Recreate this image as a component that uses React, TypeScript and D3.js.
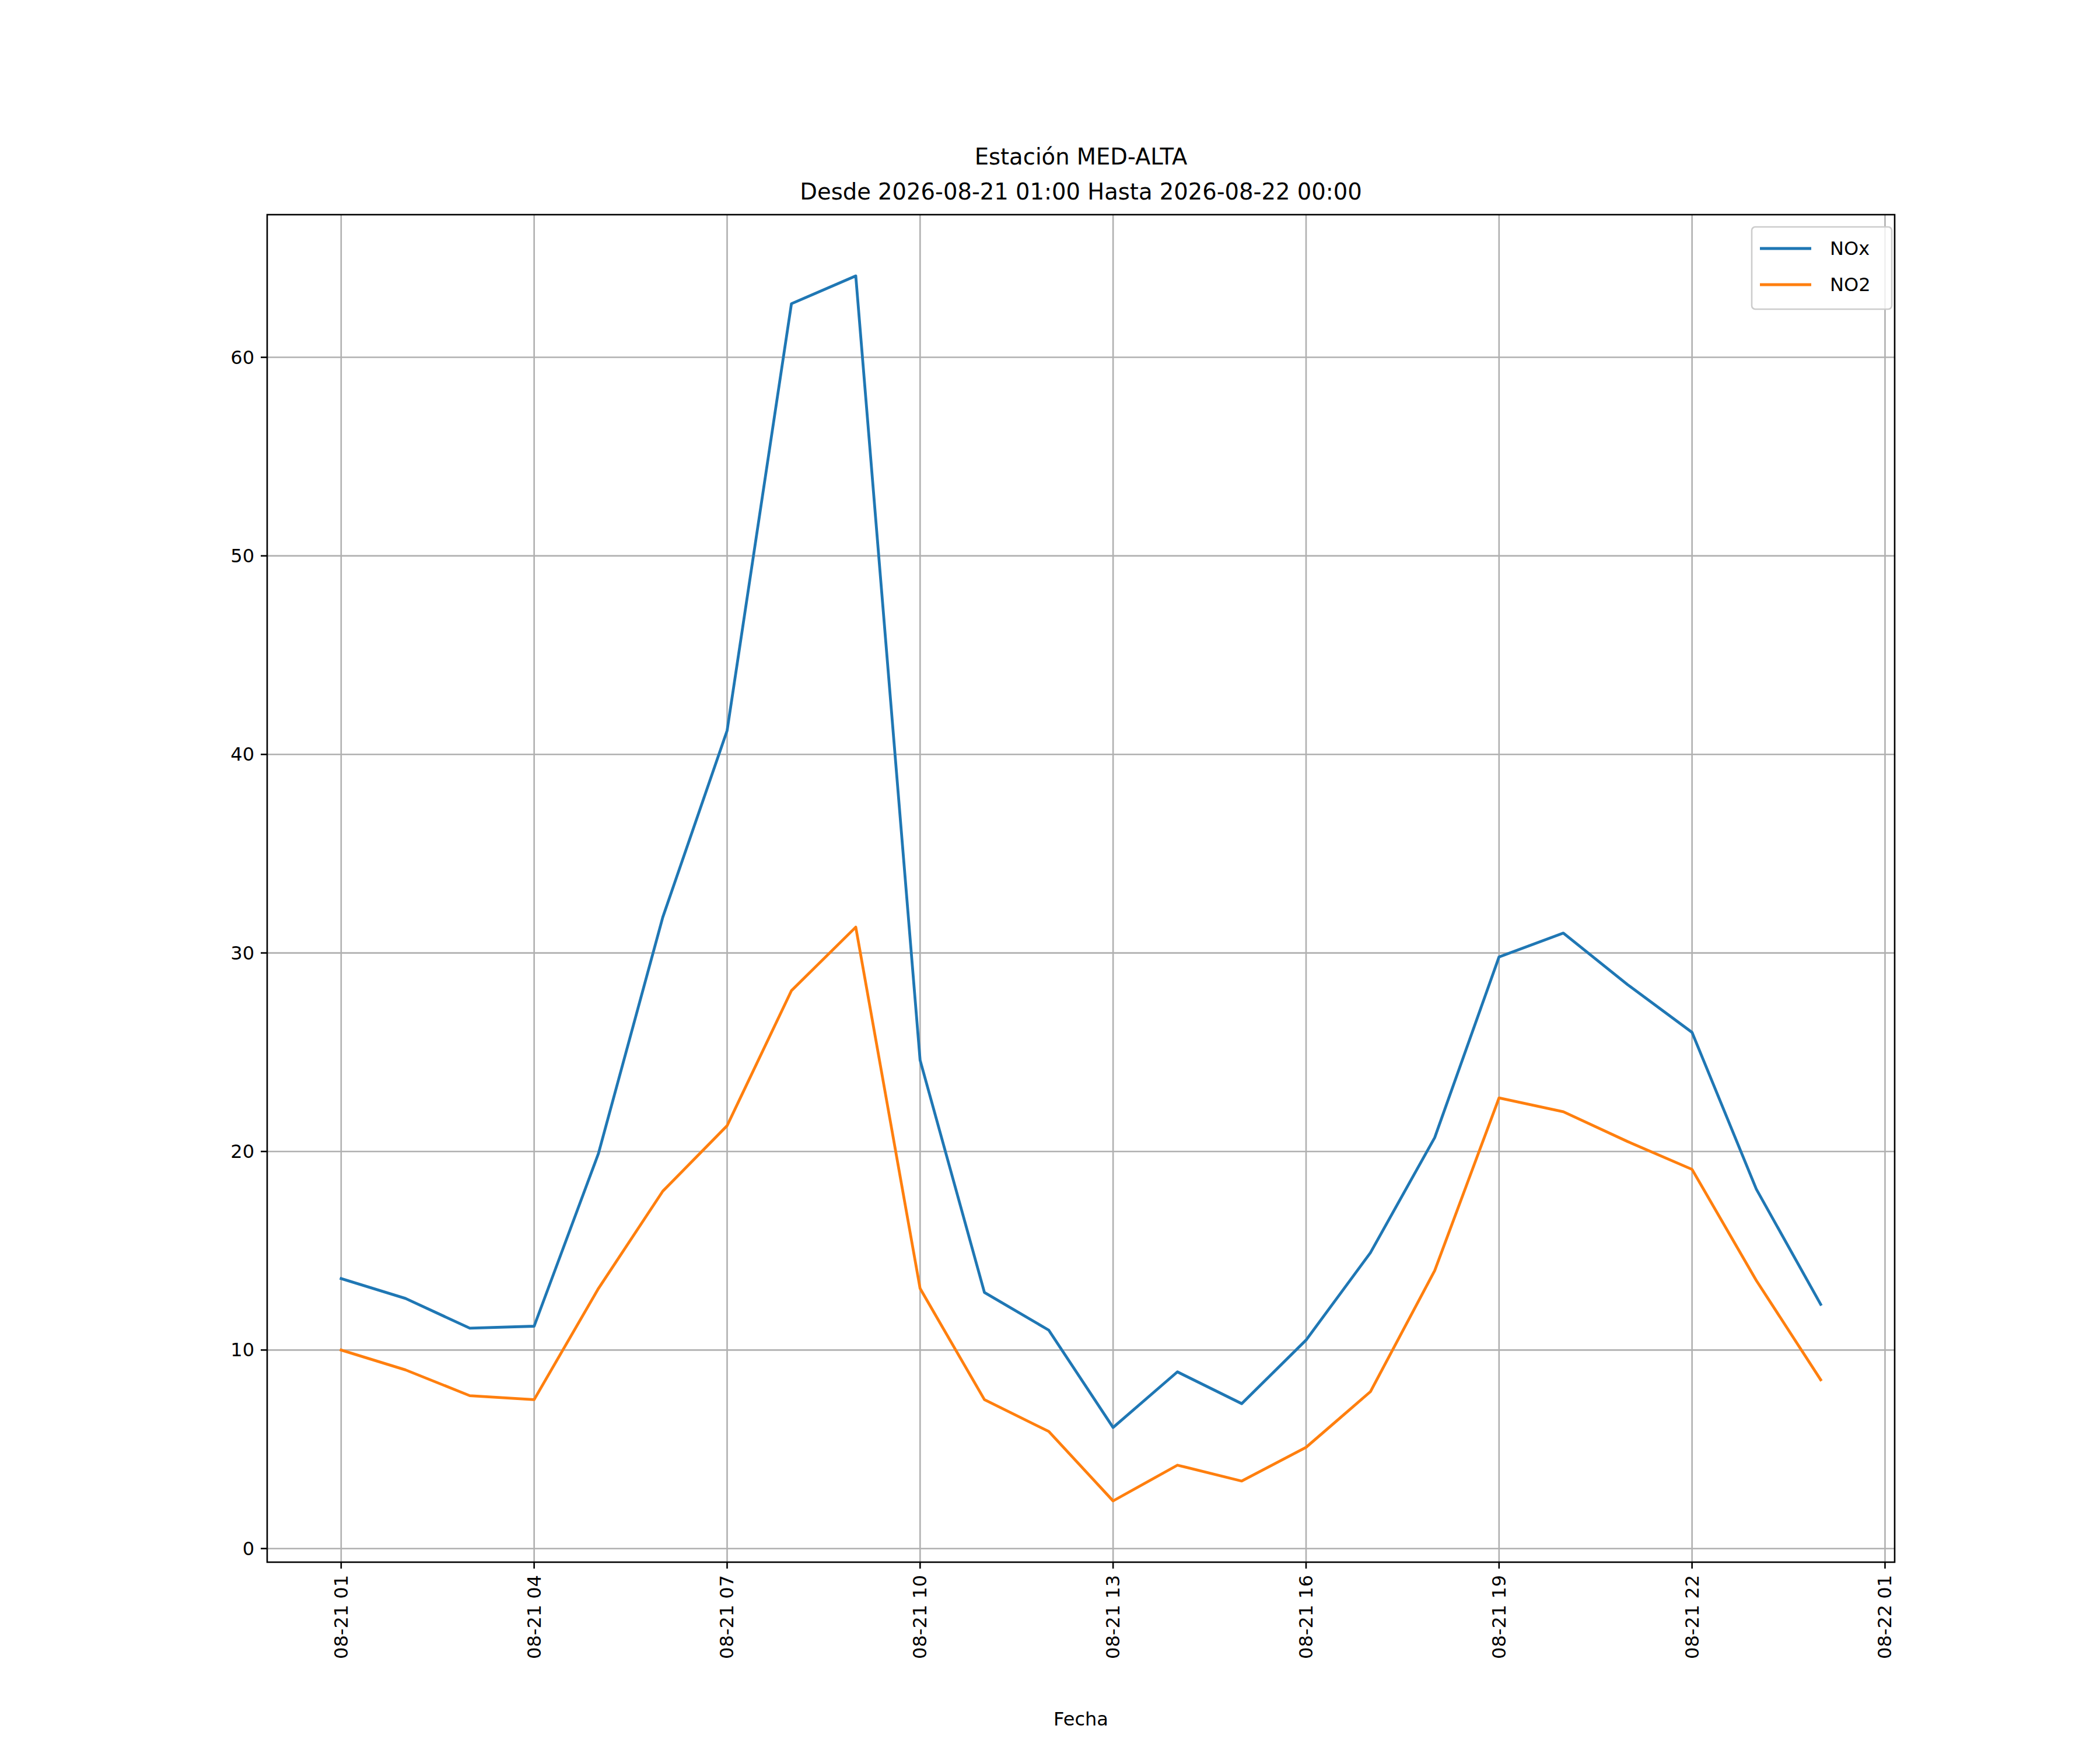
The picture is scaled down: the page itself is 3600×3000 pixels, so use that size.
import React from "react";
import * as d3 from "d3";

const hours = d3.range(1, 25);
const nox = [13.6,12.6,11.1,11.2,19.9,31.8,41.2,62.7,64.1,24.6,12.9,11.0,6.1,8.9,7.3,10.5,14.9,20.7,29.8,31.0,28.4,26.0,18.1,12.3];
const no2 = [10.0,9.0,7.7,7.5,13.1,18.0,21.3,28.1,31.3,13.1,7.5,5.9,2.4,4.2,3.4,5.1,7.9,14.0,22.7,22.0,20.5,19.1,13.5,8.5];
const xTicks = [1, 4, 7, 10, 13, 16, 19, 22, 25];
const xTickLabels = ["08-21 01","08-21 04","08-21 07","08-21 10","08-21 13","08-21 16","08-21 19","08-21 22","08-22 01"];
const yTicks = [0, 10, 20, 30, 40, 50, 60];
const series = [
  { name: "NOx", values: nox, color: "#1f77b4" },
  { name: "NO2", values: no2, color: "#ff7f0e" },
];

export default function App() {
  const W = 3600, H = 3000;
  const L = 450, R = 3240, T = 360, B = 2670;
  const all = [...nox, ...no2];
  const ymin = d3.min(all)!, ymax = d3.max(all)!;
  const ym = (ymax - ymin) * 0.05;
  const xm = 23 * 0.05;
  const x = d3.scaleLinear().domain([1 - xm, 24 + xm]).range([L, R]);
  const y = d3.scaleLinear().domain([ymin - ym, ymax + ym]).range([B, T]);
  const line = d3.line<number>().x((_, i) => x(hours[i])).y((v) => y(v));
  const font = "DejaVu Sans, sans-serif";
  return (
    <svg width={W} height={H} style={{ display: "block" }} fontFamily={font}>
      <rect width={W} height={H} fill="#fff" />
      {xTicks.map((t) => (
        <line key={"gx" + t} x1={x(t)} x2={x(t)} y1={T} y2={B} stroke="#b0b0b0" strokeWidth={2.6} />
      ))}
      {yTicks.map((t) => (
        <line key={"gy" + t} x1={L} x2={R} y1={y(t)} y2={y(t)} stroke="#b0b0b0" strokeWidth={2.6} />
      ))}
      {series.map((s) => (
        <path key={s.name} d={line(s.values)!} fill="none" stroke={s.color} strokeWidth={4.8} strokeLinejoin="round" strokeLinecap="square" />
      ))}
      <rect x={L} y={T} width={R - L} height={B - T} fill="none" stroke="#000" strokeWidth={2.6} />
      {xTicks.map((t, i) => (
        <g key={"tx" + t}>
          <line x1={x(t)} x2={x(t)} y1={B} y2={B + 11} stroke="#000" strokeWidth={2.6} />
          <text transform={`translate(${x(t) + 11},${B + 22}) rotate(-90)`} textAnchor="end" fontSize={32}>{xTickLabels[i]}</text>
        </g>
      ))}
      {yTicks.map((t) => (
        <g key={"ty" + t}>
          <line x1={L - 11} x2={L} y1={y(t)} y2={y(t)} stroke="#000" strokeWidth={2.6} />
          <text x={L - 22} y={y(t) + 11} textAnchor="end" fontSize={32}>{t}</text>
        </g>
      ))}
      <text x={(L + R) / 2} y={2950} textAnchor="middle" fontSize={32}>Fecha</text>
      <text x={(L + R) / 2} y={274} textAnchor="middle" fontSize={38.5}>Estación MED-ALTA</text>
      <text x={(L + R) / 2} y={334} textAnchor="middle" fontSize={38.5}>Desde 2026-08-21 01:00 Hasta 2026-08-22 00:00</text>
      <rect x={2995} y={381} width={240} height={141} rx={6} fill="#fff" fillOpacity={0.8} stroke="#cccccc" strokeWidth={2.6} />
      {series.map((s, i) => (
        <g key={"lg" + s.name}>
          <line x1={3009} x2={3097} y1={418 + i * 62} y2={418 + i * 62} stroke={s.color} strokeWidth={4.8} />
          <text x={3129} y={429 + i * 62} fontSize={32}>{s.name}</text>
        </g>
      ))}
    </svg>
  );
}
